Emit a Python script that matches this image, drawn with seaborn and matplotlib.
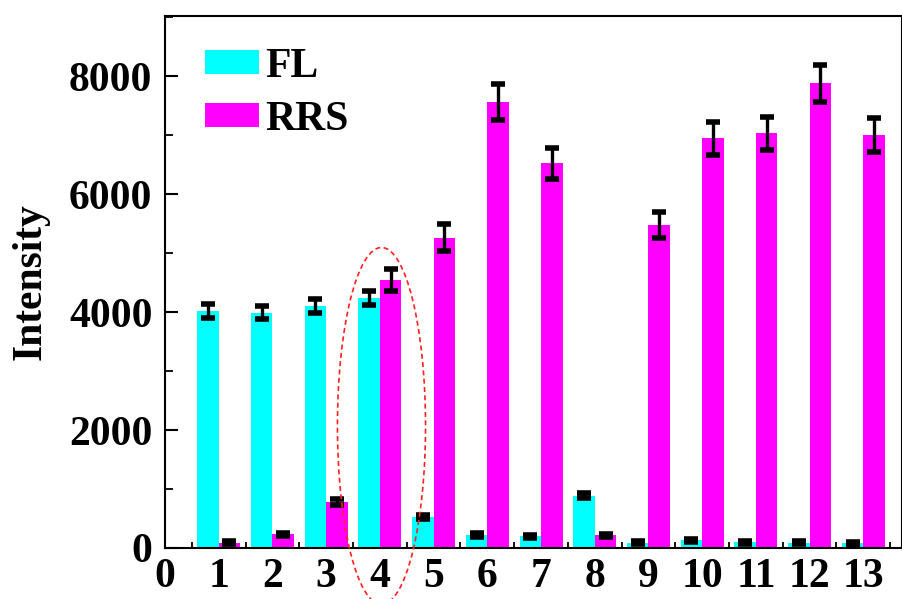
import numpy as np
import pandas as pd
import matplotlib
matplotlib.use("Agg")
import matplotlib.pyplot as plt
import seaborn as sns
from matplotlib.patches import Ellipse
from matplotlib.ticker import MultipleLocator, FixedLocator

# ---- data ----
samples = list(range(1, 14))
fl_values = [4020, 3990, 4100, 4240, 530, 225, 195, 890, 90, 130, 95, 90, 80]
fl_errors = [120, 115, 120, 120, 35, 35, 30, 50, 25, 25, 25, 25, 25]
rrs_values = [90, 230, 780, 4540, 5260, 7560, 6520, 215, 5470, 6950, 7030, 7880, 7000]
rrs_errors = [25, 30, 45, 190, 230, 310, 270, 30, 220, 280, 285, 310, 285]
series_names = ["FL", "RRS"]
xtick_values = list(range(0, 14))
xtick_labels = [str(v) for v in xtick_values]
ytick_values = [0, 2000, 4000, 6000, 8000]
highlight_sample = 4

sns.set_theme(style="white")
plt.rcParams["font.family"] = ["Liberation Serif", "DejaVu Serif"]
plt.rcParams["font.weight"] = "bold"
for k in ["text.color", "axes.labelcolor", "xtick.color", "ytick.color", "axes.edgecolor"]:
    plt.rcParams[k] = "black"

df = pd.DataFrame({
    "Sample": samples * 2,
    "Intensity": fl_values + rrs_values,
    "Signal": [series_names[0]] * len(samples) + [series_names[1]] * len(samples),
})
errs = {series_names[0]: fl_errors, series_names[1]: rrs_errors}

fig = plt.figure(figsize=(9.02, 5.99), dpi=100)
ax = fig.add_axes([165 / 902, 51 / 599, 736.5 / 902, 532 / 599])

sns.barplot(data=df, x="Sample", y="Intensity", hue="Signal",
            palette={"FL": "#00FFFF", "RRS": "#FF00FF"},
            native_scale=True, width=0.8, errorbar=None, saturation=1,
            linewidth=0, ax=ax)

# error bars placed on the bars that seaborn drew
for cont, name in zip(ax.containers, series_names):
    xs = [p.get_x() + p.get_width() / 2 for p in cont.patches]
    ys = [p.get_height() for p in cont.patches]
    ax.errorbar(xs, ys, yerr=errs[name], fmt="none", ecolor="black",
                elinewidth=2.4, capsize=5, capthick=4, zorder=5)

ax.set_xlim(0, 13.71)
ax.set_ylim(0, 9020)

ax.set_xticks(xtick_values)
ax.set_xticklabels(xtick_labels)
ax.xaxis.set_minor_locator(FixedLocator(np.arange(0.5, 14, 1.0)))
ax.set_yticks(ytick_values)
ax.yaxis.set_minor_locator(MultipleLocator(1000))

ax.tick_params(axis="x", which="major", length=0, pad=7, labelsize=30)
ax.tick_params(axis="x", which="minor", direction="in", length=4.5, width=1.3,
               bottom=True, color="black")
ax.tick_params(axis="y", which="major", direction="in", length=9.5, width=1.5,
               pad=9, labelsize=30, left=True, color="black")
ax.tick_params(axis="y", which="minor", direction="in", length=6, width=1.3,
               left=True, color="black")
for lab in ax.get_xticklabels() + ax.get_yticklabels():
    lab.set_fontweight("bold")
    lab.set_color("black")

ax.set_xlabel("")
ax.set_ylabel("Intensity", fontsize=30, fontweight="bold", labelpad=14, color="black")

for s in ["left", "bottom", "top", "right"]:
    ax.spines[s].set_visible(True)
    ax.spines[s].set_color("black")
    ax.spines[s].set_linewidth(1.5)

handles, labels = ax.get_legend_handles_labels()
if ax.get_legend() is not None:
    ax.get_legend().remove()
leg = ax.legend(handles, labels, loc="upper left", bbox_to_anchor=(0.054, 0.94),
                frameon=False, borderpad=0, borderaxespad=0, handlelength=1.3,
                handleheight=0.5, handletextpad=0.15, labelspacing=0.35,
                prop={"family": "Liberation Serif", "weight": "bold", "size": 30})
for t in leg.get_texts():
    t.set_color("black")

ell = Ellipse((highlight_sample + 0.03, 2070), width=1.64, height=6050,
              fill=False, edgecolor="#FF2020", linestyle=(0, (3, 2)),
              linewidth=1.2, clip_on=False, zorder=6)
ax.add_patch(ell)

fig.savefig("out.png", dpi=100, facecolor="white")
